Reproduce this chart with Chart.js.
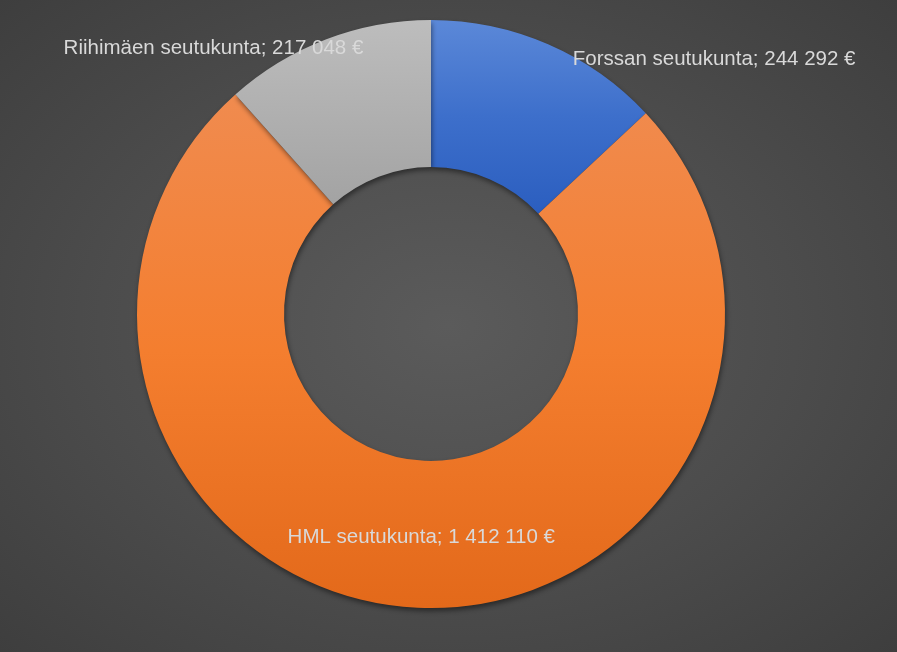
<!DOCTYPE html>
<html lang="fi">
<head>
    <meta charset="UTF-8"/>
    <title>Seutukunnat</title>
    <style>
        html, body {
            margin: 0;
            padding: 0;
            width: 897px;
            height: 652px;
            overflow: hidden;
            background: radial-gradient(ellipse at 50% 50%, #5b5b5b 0%, #4c4c4c 55%, #3e3e3e 100%);
        }

        #wrap {
            position: relative;
            width: 897px;
            height: 652px;
        }
    </style>
    <script src="https://cdn.jsdelivr.net/npm/chart.js@4/dist/chart.umd.min.js"></script>
</head>
<body>
<div id="wrap">
    <canvas id="chart"></canvas>
</div>

<script>
    // Data
    const labels = ['Forssan seutukunta', 'HML seutukunta', 'Riihimäen seutukunta'];
    const values = [244292, 1412110, 217048];

    // Styles (gradient stops of each slice, top to bottom)
    const sliceColors = [
        ['#5b88d8', '#3d6fcb', '#2b5ebf'],
        ['#f08b4f', '#f47e2f', '#e3691a'],
        ['#bdbdbd', '#b0b0b0', '#a3a3a3']
    ];
    // label anchor relative to doughnut centre, in outer radii (x, baseline y)
    const labelOffsets = [
        [0.963, -0.847],
        [-0.033, 0.779],
        [-0.740, -0.884]
    ];

    function fmtEuro(v) {
        return String(v).replace(/\B(?=(\d{3})+(?!\d))/g, ' ') + ' €';
    }

    // vertical extent of a slice, sampled along its arcs
    function sliceYRange(chart, i) {
        const area = chart.chartArea;
        const cy = (area.top + area.bottom) / 2;
        const R = Math.min(area.right - area.left, area.bottom - area.top) / 2;
        const r = R * 0.5;
        const total = values.reduce((a, b) => a + b, 0);
        const before = values.slice(0, i).reduce((a, b) => a + b, 0);
        const a0 = -Math.PI / 2 + 2 * Math.PI * before / total;
        const a1 = a0 + 2 * Math.PI * values[i] / total;
        let min = Infinity, max = -Infinity;
        for (let k = 0; k <= 60; k++) {
            const a = a0 + (a1 - a0) * k / 60;
            [R, r].forEach(rad => {
                const y = cy + rad * Math.sin(a);
                min = Math.min(min, y);
                max = Math.max(max, y);
            });
        }
        return [min, max];
    }

    function sliceFill(c) {
        const chart = c.chart;
        const stops = sliceColors[c.dataIndex];
        if (!chart.chartArea) return stops[0];
        const [y0, y1] = sliceYRange(chart, c.dataIndex);
        const g = chart.ctx.createLinearGradient(0, y0, 0, y1);
        stops.forEach((col, k) => g.addColorStop(k / (stops.length - 1), col));
        return g;
    }

    const shadowPlugin = {
        id: 'shadow',
        beforeDatasetsDraw(chart) {
            const ctx = chart.ctx;
            ctx.save();
            ctx.shadowColor = 'rgba(0, 0, 0, 0.45)';
            ctx.shadowBlur = 5;
            ctx.shadowOffsetX = 1;
            ctx.shadowOffsetY = 3;
        },
        afterDatasetsDraw(chart) {
            chart.ctx.restore();
        }
    };

    const labelPlugin = {
        id: 'sliceLabels',
        afterDatasetsDraw(chart) {
            const ctx = chart.ctx;
            const arcs = chart.getDatasetMeta(0).data;
            ctx.save();
            ctx.font = '20.5px "Liberation Sans", Arial, sans-serif';
            ctx.fillStyle = '#d9d9d9';
            ctx.textAlign = 'center';
            ctx.textBaseline = 'alphabetic';
            arcs.forEach((arc, i) => {
                const R = arc.outerRadius;
                const x = arc.x + labelOffsets[i][0] * R;
                const y = arc.y + labelOffsets[i][1] * R;
                ctx.fillText(labels[i] + '; ' + fmtEuro(values[i]), x, y);
            });
            ctx.restore();
        }
    };

    new Chart(document.getElementById('chart'), {
        type: 'doughnut',
        data: {
            labels: labels,
            datasets: [{
                data: values,
                backgroundColor: sliceFill,
                borderWidth: 0,
                hoverOffset: 0
            }]
        },
        options: {
            animation: false,
            responsive: true,
            maintainAspectRatio: false,
            cutout: '50%',
            layout: {
                padding: {top: 20, bottom: 44, left: 137, right: 172}
            },
            plugins: {
                legend: {display: false},
                tooltip: {enabled: false}
            }
        },
        plugins: [shadowPlugin, labelPlugin]
    });
</script>
</body>
</html>
